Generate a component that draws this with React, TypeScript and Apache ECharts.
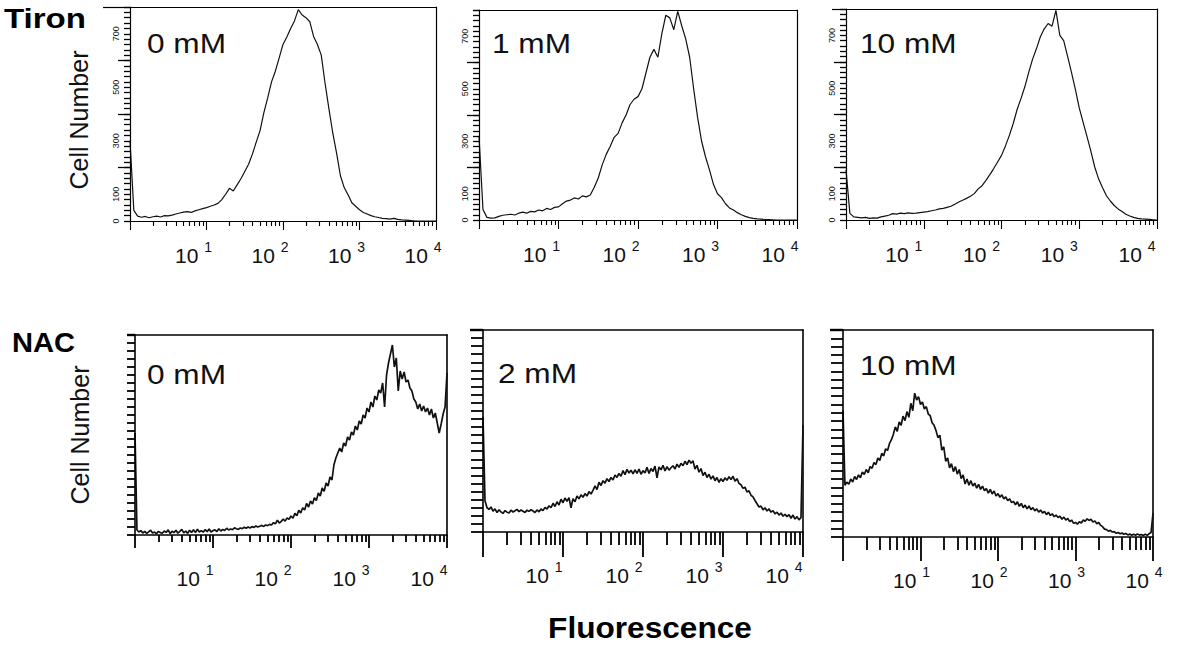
import React, { useEffect, useRef } from "react";
import * as echarts from "echarts";

// Flow cytometry histograms: cell counts per log-spaced fluorescence channel (10^0 .. 10^4)
// Top row channels every 0.05 decade, bottom row every 0.025 decade.
const TIRON_0MM = [
  300, 40, 18, 14, 17, 12, 16, 18, 15, 20,
  19, 22, 26, 30, 33, 35, 32, 38, 42, 46,
  50, 55, 60, 66, 80, 100, 122, 112, 135, 158,
  185, 212, 250, 295, 338, 405, 460, 520, 560, 610,
  660, 688, 720, 748, 790, 770, 760, 745, 690, 660,
  620, 515, 420, 330, 255, 170, 125, 98, 68, 55,
  42, 32, 26, 20, 16, 13, 10, 9, 7, 10,
  6, 4, 3, 2, 1, 0, 0, 0, 0, 0,
  0,
];
const TIRON_1MM = [
  320, 40, 10, 7, 8, 14, 18, 20, 22, 19,
  26, 30, 26, 33, 31, 38, 35, 44, 40, 48,
  50, 62, 72, 76, 84, 80, 92, 88, 95, 125,
  160, 210, 250, 280, 315, 330, 370, 400, 440, 460,
  470, 500, 560, 620, 650, 620, 710, 780, 770, 725,
  795, 740, 690, 620, 500, 390, 300, 240, 190, 135,
  100, 85, 62, 46, 38, 28, 20, 14, 9, 6,
  4, 3, 2, 2, 1, 0, 0, 0, 0, 0,
  0,
];
const TIRON_10MM = [
  190, 25, 12, 10, 8, 10, 6, 8, 7, 12,
  15, 18, 24, 22, 26, 24, 27, 25, 26, 28,
  30, 32, 35, 38, 42, 44, 48, 52, 60, 68,
  75, 82, 90, 100, 118, 130, 150, 172, 195, 220,
  245, 280, 320, 365, 418, 460, 505, 560, 610, 650,
  695, 725, 745, 735, 795, 700, 680, 620, 560, 495,
  425, 370, 316, 260, 200, 155, 122, 92, 72, 55,
  42, 32, 22, 15, 10, 6, 4, 3, 2, 1,
  0,
];
const NAC_0MM = [
  51, 2.5, 1.5, 2.2, 1.0, 1.8, 0.8, 1.6, 2.4, 1.0,
  1.5, 0.6, 1.8, 1.2, 0.9, 2.0, 1.3, 2.6, 0.7, 1.9,
  1.2, 2.4, 0.9, 1.8, 2.8, 1.1, 2.0, 0.8, 2.4, 1.3,
  2.6, 1.2, 2.9, 1.5, 2.2, 1.4, 2.7, 1.6, 3.0, 1.5,
  2.2, 2.6, 1.7, 3.1, 2.0, 2.8, 2.3, 3.4, 2.5, 3.0,
  2.7, 3.6, 3.1, 2.8, 3.5, 3.2, 3.9, 3.4, 4.0, 3.5,
  4.2, 3.8, 4.5, 4.0, 4.4, 4.8, 4.3, 5.0, 4.7, 5.3,
  5.0, 6.2, 5.6, 7.4, 6.0, 6.8, 8.0, 6.9, 8.6, 7.8,
  9.5, 8.4, 10.8, 9.6, 12.4, 11.0, 13.6, 12.5, 15.8, 14.0,
  17.0, 15.5, 18.6, 17.2, 21.0, 19.5, 23.5, 21.8, 26.0, 24.5,
  29.0, 27.5, 35.0, 38.5, 41.0, 43.5, 41.5, 46.0, 44.5, 49.0,
  47.5, 51.5, 50.0, 54.5, 52.5, 57.0, 55.5, 60.0, 58.5, 63.5,
  61.5, 66.5, 64.0, 69.5, 67.5, 72.5, 71.0, 76.0, 64.0, 80.0,
  86.0, 90.5, 95.0, 84.0, 88.5, 72.0, 82.0, 78.0, 81.5, 76.5,
  77.5, 73.5, 72.0, 68.0, 66.5, 63.0, 65.5, 62.0, 64.5, 61.5,
  63.5, 60.0, 63.0, 58.5, 61.0, 56.0, 51.0, 55.5, 60.5, 64.0,
  81.0,
];
const NAC_2MM = [
  57, 15.5, 12.0, 11.2, 12.4, 10.3, 11.5, 9.6, 11.0, 10.0,
  9.2, 10.6, 9.8, 9.4, 10.8, 9.9, 10.5, 11.2, 10.1, 10.9,
  10.3, 9.7, 10.8, 10.2, 11.0, 10.4, 9.6, 10.9, 10.0, 11.4,
  10.6, 12.2, 11.4, 13.0, 12.0, 14.2, 12.6, 15.0, 13.4, 16.2,
  14.5, 16.8, 15.2, 17.0, 12.0, 16.5, 15.0, 17.8, 16.4, 18.4,
  17.2, 19.0, 17.8, 20.0, 18.8, 20.6, 22.8, 21.0, 24.6, 23.0,
  25.4, 24.2, 26.4, 25.0, 27.0, 25.8, 28.2, 27.0, 29.0, 27.6,
  30.4, 28.4, 31.0, 29.2, 30.6, 28.8, 30.8, 29.0, 31.2, 28.6,
  30.4, 29.2, 32.0, 29.0, 31.4, 30.0, 32.6, 26.8, 32.2, 30.8,
  33.0, 30.2, 32.4, 30.6, 31.8, 32.8, 31.2, 33.6, 32.0, 34.0,
  32.8, 35.0, 33.4, 35.6, 34.0, 35.2, 31.2, 33.0, 29.6, 31.4,
  28.0, 29.6, 27.0, 28.6, 26.2, 27.8, 25.4, 27.0, 24.6, 26.4,
  25.0, 26.8, 25.6, 27.4, 26.0, 27.6, 25.2, 26.4, 24.0, 23.4,
  21.6, 22.2, 19.8, 20.4, 18.2, 17.4, 15.6, 14.0, 12.4, 12.8,
  11.0, 12.0, 10.4, 11.4, 9.8, 10.6, 9.0, 9.8, 8.4, 9.4,
  7.8, 8.8, 7.6, 8.6, 6.8, 8.4, 6.4, 7.6, 6.0, 7.2,
  53.0,
];
const NAC_10MM = [
  61, 25.0, 26.5, 25.5, 28.0, 26.6, 29.2, 27.8, 30.0, 28.6,
  31.4, 30.2, 32.6, 31.0, 34.0, 33.2, 36.0, 35.0, 38.2, 37.0,
  40.4, 39.2, 42.6, 41.8, 45.2, 47.0, 49.6, 53.2, 51.0, 55.6,
  54.0, 58.4, 56.2, 60.6, 57.8, 64.6, 61.0, 69.5, 66.2, 67.8,
  64.0, 65.2, 61.8, 63.0, 59.4, 58.6, 55.2, 54.0, 51.4, 48.0,
  49.2, 42.0, 43.6, 36.6, 38.2, 33.4, 35.4, 31.6, 34.0, 30.4,
  32.6, 28.2, 30.0, 25.6, 28.0, 25.0, 27.2, 24.6, 26.0, 23.6,
  25.4, 23.0, 24.6, 22.4, 23.4, 21.2, 23.0, 20.8, 22.2, 19.8,
  21.0, 19.2, 20.4, 18.4, 19.4, 17.6, 18.4, 16.6, 17.2, 15.6,
  17.0, 14.8, 16.2, 14.2, 15.4, 13.6, 15.0, 13.2, 14.2, 12.6,
  13.6, 12.0, 13.0, 11.6, 12.4, 10.8, 12.0, 10.4, 11.2, 9.8,
  10.6, 9.4, 10.0, 8.6, 9.6, 8.2, 9.0, 7.4, 8.2, 6.6,
  7.0, 6.2, 7.4, 6.8, 8.2, 7.6, 8.8, 8.0, 8.6, 7.2,
  7.8, 6.4, 7.0, 5.6, 5.0, 3.8, 3.6, 2.8, 3.2, 2.4,
  2.6, 1.8, 2.2, 1.6, 1.9, 1.3, 1.7, 1.0, 1.4, 0.9,
  1.3, 0.8, 1.5, 0.9, 1.2, 0.7, 1.4, 0.8, 1.6, 2.2,
  11.6,
];

const DECADES = [0, 1, 2, 3, 4];
const DECADE_LABELS = [1, 2, 3, 4];
const MINOR_MULTIPLES = [2, 3, 4, 5, 6, 7, 8, 9];
const TOP_Y_LABELS = [0, 100, 300, 500, 700];
const TOP_Y_MAJOR = [200, 400, 600];
const ROW_TITLES = ["Tiron", "NAC"];
const DOSE_LABELS = ["0 mM", "1 mM", "10 mM", "0 mM", "2 mM", "10 mM"];

const FONT = "'Liberation Sans', Arial, Helvetica, sans-serif";

type Panel = {
  data: number[];
  dose: string;
  row: "top" | "bottom";
  grid: { left: number; top: number; width: number; height: number };
  dosePos: [number, number];
  labelShift: number;
  topTick: number;
  yTick: number;
  xMajor: number;
  xMinor: number;
};

const PANELS: Panel[] = [
  { data: TIRON_0MM, dose: DOSE_LABELS[0], row: "top", grid: { left: 130, top: 7, width: 306, height: 214 }, dosePos: [147, 43], labelShift: -13, topTick: 27, yTick: 12, xMajor: 9, xMinor: 5 },
  { data: TIRON_1MM, dose: DOSE_LABELS[1], row: "top", grid: { left: 479, top: 10, width: 318, height: 210 }, dosePos: [492, 43], labelShift: -17, topTick: 6, yTick: 12, xMajor: 9, xMinor: 5 },
  { data: TIRON_10MM, dose: DOSE_LABELS[2], row: "top", grid: { left: 846, top: 9, width: 311, height: 211 }, dosePos: [860, 43], labelShift: -20, topTick: 14, yTick: 12, xMajor: 9, xMinor: 5 },
  { data: NAC_0MM, dose: DOSE_LABELS[3], row: "bottom", grid: { left: 135, top: 335, width: 312, height: 200 }, dosePos: [147, 374], labelShift: -18, topTick: 8, yTick: 8, xMajor: 13, xMinor: 7 },
  { data: NAC_2MM, dose: DOSE_LABELS[4], row: "bottom", grid: { left: 483, top: 330, width: 320, height: 202 }, dosePos: [498, 373], labelShift: -19, topTick: 13, yTick: 12, xMajor: 25, xMinor: 13 },
  { data: NAC_10MM, dose: DOSE_LABELS[5], row: "bottom", grid: { left: 843, top: 330, width: 310, height: 207 }, dosePos: [860, 365], labelShift: -9, topTick: 13, yTick: 12, xMajor: 24, xMinor: 13 },
];

function buildOption() {
  const grid: any[] = [];
  const xAxis: any[] = [];
  const yAxis: any[] = [];
  const series: any[] = [];
  const graphic: any[] = [];

  PANELS.forEach((p, i) => {
    const isTop = p.row === "top";
    const yMax = isTop ? 800 : 100;
    const lw = isTop ? 1.2 : 1.6;
    const tickW = isTop ? 1.1 : 1.8;
    const minorPositions: number[] = [];
    DECADES.slice(0, 4).forEach((d) => MINOR_MULTIPLES.forEach((k) => minorPositions.push(d + Math.log10(k))));
    grid.push({ ...p.grid, containLabel: false, outerBoundsMode: "none" });

    const yMain = yAxis.length;
    yAxis.push({
      type: "value", gridIndex: i, min: 0, max: yMax, interval: isTop ? 20 : 4, position: "left", z: 5,
      axisLine: { show: true, onZero: false, lineStyle: { color: "#000", width: lw } },
      axisTick: { show: true, length: isTop ? 6 : p.yTick, lineStyle: { color: "#000", width: isTop ? 1.3 : tickW } },
      axisLabel: { show: false }, splitLine: { show: false },
    });
    if (isTop) {
      yAxis.push({
        type: "value", gridIndex: i, min: 0, max: yMax, interval: 100, position: "left", z: 5,
        axisLine: { show: false, onZero: false },
        axisTick: { show: true, customValues: [...TOP_Y_MAJOR], length: p.yTick, lineStyle: { color: "#000", width: 1.3 } },
        axisLabel: { show: true, customValues: [...TOP_Y_LABELS], rotate: 90, margin: 10, fontSize: 9, fontFamily: FONT, color: "#111" },
        splitLine: { show: false },
      });
    }
    yAxis.push({
      type: "value", gridIndex: i, min: 0, max: yMax, position: "left", z: 5,
      axisLine: { show: false, onZero: false },
      axisTick: { show: true, customValues: [yMax], length: p.topTick, lineStyle: { color: "#000", width: isTop ? 1.2 : 2.4 } },
      axisLabel: { show: false }, splitLine: { show: false },
    });
    yAxis.push({
      type: "value", gridIndex: i, min: 0, max: yMax, position: "right",
      axisLine: { show: true, onZero: false, lineStyle: { color: "#000", width: lw } },
      axisTick: { show: false }, axisLabel: { show: false }, splitLine: { show: false },
    });

    const xMain = xAxis.length;
    xAxis.push({
      type: "value", gridIndex: i, min: 0, max: 4, interval: 1, position: "bottom",
      axisLine: { show: true, onZero: false, lineStyle: { color: "#000", width: lw } },
      axisTick: { show: true, customValues: [...DECADES], length: p.xMajor, lineStyle: { color: "#000", width: tickW } },
      axisLabel: {
        show: true, customValues: [...DECADE_LABELS], margin: isTop ? 19 : 28, align: "center",
        padding: [0, -2 * p.labelShift, 0, 0],
        formatter: (v: number) => `{a|10 }{b|${Math.round(v)}}`,
        rich: {
          a: { fontSize: 21, fontFamily: FONT, color: "#111", lineHeight: 26, verticalAlign: "bottom" },
          b: { fontSize: 14, fontFamily: FONT, color: "#111", lineHeight: 26, verticalAlign: "top" },
        },
      },
      splitLine: { show: false },
    });
    xAxis.push({
      type: "value", gridIndex: i, min: 0, max: 4, interval: 1, position: "bottom",
      axisLine: { show: false, onZero: false },
      axisTick: { show: true, customValues: minorPositions, length: p.xMinor, lineStyle: { color: "#000", width: tickW } },
      axisLabel: { show: false }, splitLine: { show: false },
    });
    xAxis.push({
      type: "value", gridIndex: i, min: 0, max: 4, position: "top",
      axisLine: { show: true, onZero: false, lineStyle: { color: "#000", width: lw } },
      axisTick: { show: false }, axisLabel: { show: false }, splitLine: { show: false },
    });

    const n = p.data.length;
    series.push({
      type: "line", xAxisIndex: xMain, yAxisIndex: yMain,
      data: p.data.map((c, k) => [(k * 4) / (n - 1), c]),
      showSymbol: false, symbol: "none", silent: true,
      lineStyle: { color: "#111", width: isTop ? 1.2 : 1.7 },
    });

    graphic.push({
      type: "text", x: p.dosePos[0], y: p.dosePos[1], scaleX: 1.13,
      style: { text: p.dose, fontSize: 28, fontFamily: FONT, fill: "#111", align: "left", verticalAlign: "middle" },
    });
  });

  graphic.push(
    { type: "text", x: 4, y: 18, scaleX: 1.18, style: { text: ROW_TITLES[0], fontSize: 28, fontWeight: "bold", fontFamily: FONT, fill: "#000", align: "left", verticalAlign: "middle" } },
    { type: "text", x: 12, y: 342, scaleX: 1.04, style: { text: ROW_TITLES[1], fontSize: 28, fontWeight: "bold", fontFamily: FONT, fill: "#000", align: "left", verticalAlign: "middle" } },
    { type: "text", x: 79, y: 120, rotation: Math.PI / 2, style: { text: "Cell Number", fontSize: 25, fontFamily: FONT, fill: "#111", align: "center", verticalAlign: "middle" } },
    { type: "text", x: 80, y: 435, rotation: Math.PI / 2, style: { text: "Cell Number", fontSize: 25, fontFamily: FONT, fill: "#111", align: "center", verticalAlign: "middle" } },
    { type: "text", x: 650, y: 628, scaleX: 1.09, style: { text: "Fluorescence", fontSize: 29, fontWeight: "bold", fontFamily: FONT, fill: "#000", align: "center", verticalAlign: "middle" } },
  );

  return {
    animation: false,
    grid, xAxis, yAxis, series, graphic,
  };
}

export default function App() {
  const ref = useRef<HTMLDivElement>(null);
  useEffect(() => {
    if (!ref.current) return;
    const chart = echarts.init(ref.current, undefined, { renderer: "svg" });
    chart.setOption(buildOption() as any);
    return () => chart.dispose();
  }, []);
  return (
    <div
      ref={ref}
      style={{ position: "absolute", left: 0, top: 0, width: 1186, height: 649, background: "#fff" }}
    />
  );
}
